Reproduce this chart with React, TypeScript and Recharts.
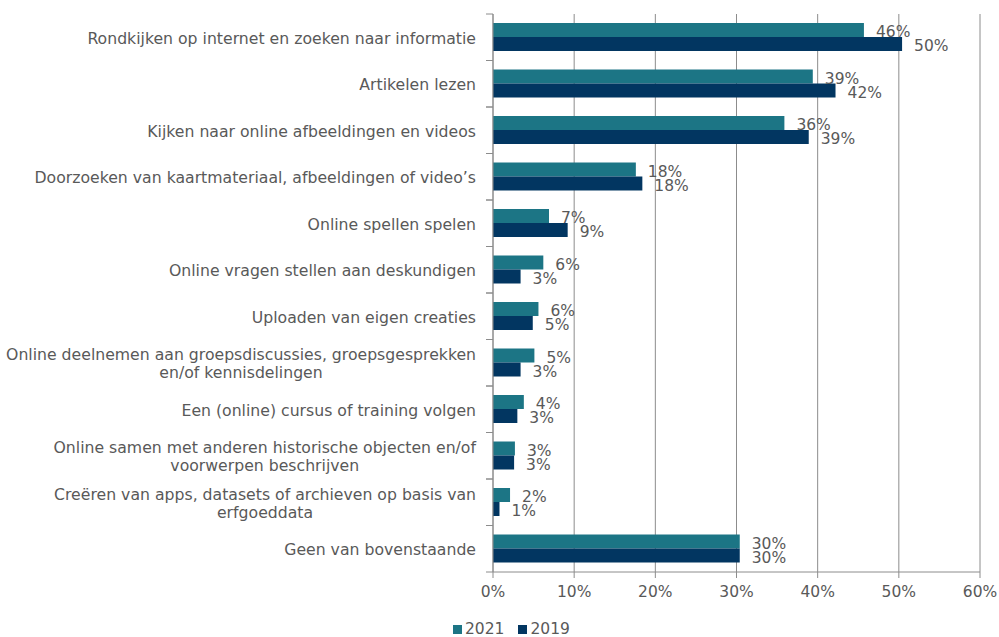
import { BarChart, Bar, XAxis, YAxis, CartesianGrid, Legend, LabelList } from 'recharts';

// categories (line breaks where the reference wraps)
const categories = [
  'Rondkijken op internet en zoeken naar informatie',
  'Artikelen lezen',
  'Kijken naar online afbeeldingen en videos',
  'Doorzoeken van kaartmateriaal, afbeeldingen of video’s',
  'Online spellen spelen',
  'Online vragen stellen aan deskundigen',
  'Uploaden van eigen creaties',
  'Online deelnemen aan groepsdiscussies, groepsgesprekken\nen/of kennisdelingen',
  'Een (online) cursus of training volgen',
  'Online samen met anderen historische objecten en/of\nvoorwerpen beschrijven',
  'Creëren van apps, datasets of archieven op basis van\nerfgoeddata',
  'Geen van bovenstaande',
];

const values2021 = [45.7, 39.4, 35.9, 17.6, 6.9, 6.2, 5.6, 5.1, 3.8, 2.7, 2.1, 30.4];
const values2019 = [50.4, 42.2, 38.9, 18.4, 9.2, 3.4, 4.9, 3.4, 3.0, 2.6, 0.8, 30.4];

const xTicks = [0, 10, 20, 30, 40, 50, 60];

const COLOR_2021 = '#1c7585';
const COLOR_2019 = '#023661';
const TEXT = '#595959';
const GRID = '#8c8c8c';
const FONT = '"DejaVu Sans", Verdana, sans-serif';
const CAT_SIZE = 15.7;

const data = categories.map((name, i) => ({
  name,
  y2021: values2021[i],
  y2019: values2019[i],
}));

let measureCtx: CanvasRenderingContext2D | null = null;
const measure = (text: string) => {
  if (!measureCtx) {
    measureCtx = document.createElement('canvas').getContext('2d');
    if (measureCtx) measureCtx.font = `${CAT_SIZE}px ${FONT}`;
  }
  return measureCtx ? measureCtx.measureText(text).width : text.length * 8;
};

const AXIS_X = 493;
const BAND = 558 / 12;

const CategoryTick = (props: any) => {
  const { y, payload } = props;
  const lines: string[] = String(payload.value).split('\n');
  const lh = 18;
  const right = AXIS_X - 17;
  const widest = Math.max(...lines.map(measure));
  const cx = right - widest / 2;
  return (
    <g>
      <line x1={AXIS_X - 7} x2={AXIS_X} y1={y - BAND / 2} y2={y - BAND / 2} stroke={GRID} />
      <line x1={AXIS_X - 7} x2={AXIS_X} y1={y + BAND / 2} y2={y + BAND / 2} stroke={GRID} />
      {lines.map((l, i) => (
        <text
          key={i}
          x={lines.length > 1 ? cx : right}
          y={y + 1 + (i - (lines.length - 1) / 2) * lh}
          textAnchor={lines.length > 1 ? 'middle' : 'end'}
          dominantBaseline="central"
          fontSize={CAT_SIZE}
          fontFamily={FONT}
          fill={TEXT}
        >
          {l}
        </text>
      ))}
    </g>
  );
};

const ValueLabel = (props: any) => {
  const { x, y, width, height, value } = props;
  return (
    <text
      x={x + width + 12}
      y={y + height / 2 + 2}
      dominantBaseline="central"
      fontSize={15.5}
      fontFamily={FONT}
      fill={TEXT}
    >
      {`${Math.round(value)}%`}
    </text>
  );
};

const LegendContent = () => (
  <div style={{ display: 'flex', paddingLeft: 453, fontFamily: FONT, fontSize: 15.5, color: TEXT, lineHeight: '20px' }}>
    {[
      ['2021', COLOR_2021],
      ['2019', COLOR_2019],
    ].map(([label, color]) => (
      <div key={label} style={{ display: 'flex', alignItems: 'center', marginRight: 14 }}>
        <span style={{ width: 9, height: 9, background: color, marginRight: 3, display: 'inline-block' }} />
        <span>{label}</span>
      </div>
    ))}
  </div>
);

export default function App() {
  return (
    <div style={{ position: 'absolute', left: 0, top: 0, width: 999, height: 637, background: '#fff' }}>
      <BarChart
        width={999}
        height={637}
        data={data}
        layout="vertical"
        margin={{ top: 14, right: 19, left: 0, bottom: 15 }}
        barCategoryGap="20%"
        barGap={0}
      >
        <CartesianGrid horizontal={false} stroke={GRID} />
        <XAxis
          type="number"
          domain={[0, 60]}
          ticks={xTicks}
          tickFormatter={(v) => `${v}%`}
          stroke={GRID}
          tickSize={6}
          tickMargin={8}
          height={30}
          tick={{ fill: TEXT, fontSize: 15.5, fontFamily: FONT }}
          interval={0}
        />
        <YAxis
          type="category"
          dataKey="name"
          width={493}
          stroke={GRID}
          tickLine={false}
          tick={<CategoryTick />}
          interval={0}
        />
        <Legend
          verticalAlign="bottom"
          content={<LegendContent />}
          wrapperStyle={{ top: 619, left: 0, width: 999, height: 20 }}
        />
        <Bar dataKey="y2021" name="2021" fill={COLOR_2021} barSize={14} isAnimationActive={false}>
          <LabelList dataKey="y2021" content={<ValueLabel />} />
        </Bar>
        <Bar dataKey="y2019" name="2019" fill={COLOR_2019} barSize={14} isAnimationActive={false}>
          <LabelList dataKey="y2019" content={<ValueLabel />} />
        </Bar>
      </BarChart>
    </div>
  );
}
